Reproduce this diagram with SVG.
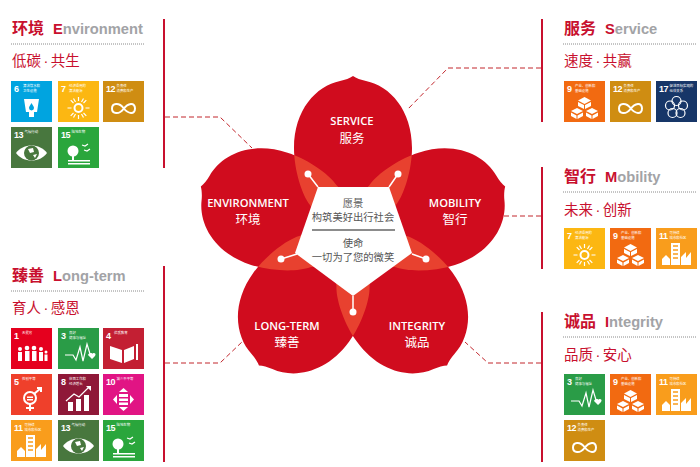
<svg xmlns="http://www.w3.org/2000/svg" xmlns:xlink="http://www.w3.org/1999/xlink" width="700" height="467" viewBox="0 0 700 467">
<style>
text{font-family:"Noto Sans CJK SC","Liberation Sans",sans-serif}
.h{font-size:16px;font-weight:700;fill:#c8102e}
.hl{font-family:"Liberation Sans",sans-serif;font-size:14.7px;font-weight:700;fill:#a2a3a6}
.hr{font-family:"Liberation Sans",sans-serif;font-size:14.7px;font-weight:700;fill:#c8102e}
.s{font-size:14.5px;fill:#c8102e}
.sd{font-family:"Liberation Sans",sans-serif}
.dot{stroke:#8a8a8a;stroke-width:1;stroke-dasharray:1 1;fill:none}
.bar{stroke:#c8102e;stroke-width:2;fill:none}
.dash{stroke:#c2272d;stroke-width:1;stroke-dasharray:5 3;fill:none}
.pl{font-family:"Open Sans","Liberation Sans",sans-serif;font-size:11.2px;font-weight:600;fill:#fff;text-anchor:middle}
.pc{font-size:12.5px;fill:#fff;text-anchor:middle}
.c{font-size:10.3px;fill:#555;text-anchor:middle}
.n{font-family:"Liberation Sans",sans-serif;font-size:9px;font-weight:700;letter-spacing:-.6px;fill:#fff}
.t{font-size:3.4px;fill:#fff}
.w{fill:#fff}
.o{fill:none;stroke:#fff;stroke-width:2}
.o1{fill:none;stroke:#fff;stroke-width:1.2}
</style>
<defs>
<path id="petal" d="M353,76C350,78 345,80 340,81C316,86 294,110 294,148C294,170 302,195 310,205C320,225 340,255 353,270C366,255 386,225 396,205C404,195 412,170 412,148C412,110 390,86 366,81C361,80 356,78 353,76Z"/>
<clipPath id="cs"><use href="#petal"/></clipPath>
<clipPath id="ci"><use href="#petal" transform="rotate(144 353 236)"/></clipPath>
<clipPath id="cl"><use href="#petal" transform="rotate(216 353 236)"/></clipPath>
<g id="i12"><path class="o" d="M20.500,27C16,21 9,22 9,27.500C9,33 16,34 20.500,28C25,22 32,21 32,27.500C32,34 25,33 20.500,27Z"/></g>
<g id="t1"><rect width="41" height="41" fill="#e5001e"/><text class="n" x="3" y="11">1</text><text class="t" x="11" y="6">无贫穷</text><g class="w"><circle cx="9" cy="21" r="2"/><rect x="7" y="24" width="4" height="9"/><circle cx="16" cy="20" r="2.300"/><rect x="14" y="23" width="4.500" height="10"/><circle cx="23" cy="20" r="2.300"/><rect x="21" y="23" width="4.500" height="10"/><circle cx="30" cy="21" r="2"/><rect x="28" y="24" width="4" height="9"/><circle cx="35" cy="24" r="1.500"/><rect x="33.500" y="26.500" width="3" height="6.500"/></g></g>
<g id="t3"><rect width="41" height="41" fill="#2a9c47"/><text class="n" x="3" y="11">3</text><text class="t" x="11" y="6">良好</text><text class="t" x="11" y="10.500">健康与福祉</text><path class="o1" d="M7,27H15L18,32L22,19L25,33L29,16L32,26"/><path class="w" d="M30,27C31,24 35,25 34,26C35,24 39,25 37,28L34,31Z"/></g>
<g id="t4"><rect width="41" height="41" fill="#c31f33"/><text class="n" x="3" y="11">4</text><text class="t" x="11" y="6">优质教育</text><path class="w" d="M7,18L19,22V35L7,31ZM21,22L31,18V31L21,35Z"/><rect class="w" x="33" y="16" width="2" height="16"/></g>
<g id="t5"><rect width="41" height="41" fill="#ef402b"/><text class="n" x="3" y="11">5</text><text class="t" x="11" y="6">性别平等</text><circle class="o" cx="19" cy="24" r="6"/><path class="o" d="M19,30V37M15,34H23M23,20L30,14M26,14H30V18"/><path class="w" d="M16,22.500H22V24H16ZM16,25H22V26.500H16Z"/></g>
<g id="t6"><rect width="41" height="41" fill="#00a4e0"/><text class="n" x="3" y="11">6</text><text class="t" x="12" y="6">清洁饮水和</text><text class="t" x="12" y="10.500">卫生设施</text><path class="w" d="M13,18H28L26,31H23V36H18V31H15Z"/><path d="M20.500,22C22,24.500 23,25.500 23,27A2.500,2.500 0 0 1 18,27C18,25.500 19,24.500 20.500,22Z" fill="#00a4e0"/></g>
<g id="t7"><rect width="41" height="41" fill="#fcb712"/><text class="n" x="3" y="11">7</text><text class="t" x="11" y="6">经济适用的</text><text class="t" x="11" y="10.500">清洁能源</text><circle class="o" cx="20.500" cy="27" r="4"/><path class="o1" d="M20.500,16V20M20.500,34V38M9.500,27H13.500M27.500,27H31.500M12.700,19.200L15.500,22M25.500,32L28.300,34.800M12.700,34.800L15.500,32M25.500,22L28.300,19.200M15.500,17.500L17.500,21M23.500,33L25.500,36.500M15.500,36.500L17.500,33M23.500,21L25.500,17.500"/></g>
<g id="t8"><rect width="41" height="41" fill="#8f1838"/><text class="n" x="3" y="11">8</text><text class="t" x="11" y="6">体面工作和</text><text class="t" x="11" y="10.500">经济增长</text><path class="w" d="M10,28H15V37H10ZM18,25H23V37H18ZM26,21H31V37H26Z"/><path class="o1" d="M8,27L16,20L21,23L31,13"/><path class="w" d="M28,12H33V17Z"/></g>
<g id="t9"><rect width="41" height="41" fill="#f26a11"/><text class="n" x="3" y="11">9</text><text class="t" x="11" y="6">产业、创新和</text><text class="t" x="11" y="10.500">基础设施</text><g class="w"><path d="M20.500,16L27,19.500L20.500,23L14,19.500Z"/><path d="M14,21L20,24V28L14,25ZM27,21L21,24V28L27,25Z"/><path d="M13,27L19,30L13,33L7,30Z"/><path d="M28,27L34,30L28,33L22,30Z"/><path d="M7,31.500L12.500,34.500V38L7,35ZM19,31.500L13.500,34.500V38L19,35ZM22,31.500L27.500,34.500V38L22,35ZM34,31.500L28.500,34.500V38L34,35Z"/></g></g>
<g id="t10"><rect width="41" height="41" fill="#e11484"/><text class="n" x="3" y="11">10</text><text class="t" x="13.500" y="6">减少不平等</text><path class="w" d="M20.500,14L25,18H16ZM20.500,37L25,33H16ZM10,25.500L14,21V30ZM31,25.500L27,21V30ZM16,20H25V23H16ZM16,24.500H25V27H16ZM16,28.500H25V31H16Z"/></g>
<g id="t11"><rect width="41" height="41" fill="#f99d1c"/><text class="n" x="3" y="11">11</text><text class="t" x="13.500" y="6">可持续</text><text class="t" x="13.500" y="10.500">城市和社区</text><g class="w"><rect x="15" y="15" width="9" height="22"/><path d="M6,37V31L10,27L14,31V37ZM25,37V29L30,24V30L35,24V37Z"/></g><path d="M17,18H22M17,22H22M17,26H22M17,30H22" stroke="#f99d1c" stroke-width="1.500"/></g>
<g id="t12"><rect width="41" height="41" fill="#cf8d12"/><text class="n" x="3" y="11">12</text><text class="t" x="13.500" y="6">负责任</text><text class="t" x="13.500" y="10.500">消费和生产</text><use href="#i12"/></g>
<g id="t13"><rect width="41" height="41" fill="#48773e"/><text class="n" x="3" y="11">13</text><text class="t" x="13.500" y="6">气候行动</text><path class="w" d="M5,26C12,16 29,16 36,26C29,36 12,36 5,26Z"/><circle cx="20.500" cy="26" r="7.500" fill="#48773e"/><path class="w" d="M17,22L22,21L23,25L19,26ZM22,28L26,27L24,31Z"/></g>
<g id="t15"><rect width="41" height="41" fill="#2aa63c"/><text class="n" x="3" y="11">15</text><text class="t" x="13.500" y="6">陆地生物</text><circle class="w" cx="15" cy="24" r="5.500"/><rect class="w" x="14" y="27" width="2" height="6"/><path class="o1" d="M24,18L27,19L30,17M26,23L29,24L32,22"/><rect class="w" x="10" y="33" width="22" height="1.500"/><rect class="w" x="10" y="36" width="22" height="1.500"/></g>
<g id="t17"><rect width="41" height="41" fill="#173668"/><text class="n" x="3" y="11">17</text><text class="t" x="13.500" y="6">促进目标实现的</text><text class="t" x="13.500" y="10.500">伙伴关系</text><g class="o1"><circle cx="20.500" cy="20" r="4.500"/><circle cx="27" cy="24.500" r="4.500"/><circle cx="24.500" cy="32" r="4.500"/><circle cx="16.500" cy="32" r="4.500"/><circle cx="14" cy="24.500" r="4.500"/></g></g>
</defs>
<rect width="700" height="467" fill="#fff"/>
<g id="connectors">
<path class="dash" d="M165,117H220L252,148"/>
<path class="dash" d="M165,363H220L243,341"/>
<path class="dash" d="M541,68H448L407,110"/>
<path class="dash" d="M541,216H503"/>
<path class="dash" d="M541,363H488L465,342"/>
</g>
<g id="flower">
<g fill="#d00c1e">
<use href="#petal"/>
<use href="#petal" transform="rotate(72 353 236)"/>
<use href="#petal" transform="rotate(144 353 236)"/>
<use href="#petal" transform="rotate(216 353 236)"/>
<use href="#petal" transform="rotate(288 353 236)"/>
</g>
<g fill="#e8412f">
<g clip-path="url(#cs)"><use href="#petal" transform="rotate(72 353 236)"/><use href="#petal" transform="rotate(288 353 236)"/></g>
<g clip-path="url(#ci)"><use href="#petal" transform="rotate(72 353 236)"/><use href="#petal" transform="rotate(216 353 236)"/></g>
<g clip-path="url(#cl)"><use href="#petal" transform="rotate(288 353 236)"/></g>
</g>
<g id="core">
<path d="M318,187H389L412,253L353,296L295,253Z" fill="#fff"/>
<path d="M308,174L318,187M398,174L389,187M281,259L297,254M426,259L412,254M353,312V296" stroke="#fff" stroke-width="1.500" fill="none"/>
<g fill="#fff"><circle cx="308" cy="174" r="3.500"/><circle cx="398" cy="174" r="3.500"/><circle cx="281" cy="259" r="3.500"/><circle cx="426" cy="259" r="3.500"/><circle cx="353" cy="312" r="3.500"/></g>
<text class="c" x="353" y="207">愿景</text>
<text class="c" x="353" y="221">构筑美好出行社会</text>
<path d="M312,230H395" stroke="#666" stroke-width="1.500"/>
<text class="c" x="353" y="247">使命</text>
<text class="c" x="353" y="261">一切为了您的微笑</text>
</g>
</g>
<g id="petal-service"><text class="pl" x="352" y="125">SERVICE</text><text class="pc" x="352" y="143">服务</text></g>
<g id="petal-environment"><text class="pl" x="248" y="207">ENVIRONMENT</text><text class="pc" x="248" y="224">环境</text></g>
<g id="petal-mobility"><text class="pl" x="455" y="207">MOBILITY</text><text class="pc" x="455" y="224">智行</text></g>
<g id="petal-longterm"><text class="pl" x="287" y="330">LONG-TERM</text><text class="pc" x="287" y="347">臻善</text></g>
<g id="petal-integrity"><text class="pl" x="417" y="330">INTEGRITY</text><text class="pc" x="417" y="347">诚品</text></g>

<g id="panel-environment">
<path class="bar" d="M164,19V168"/>
<text class="h" x="12" y="34">环境</text><text x="53" y="34"><tspan class="hr">E</tspan><tspan class="hl">nvironment</tspan></text>
<path class="dot" d="M11,44H145"/>
<text class="s" x="12" y="66">低碳<tspan class="sd" dx="2.500">·</tspan><tspan dx="2.500">共生</tspan></text>
<use href="#t6" x="11" y="81"/><use href="#t7" x="58" y="81"/><use href="#t12" x="103" y="81"/>
<use href="#t13" x="11" y="127"/><use href="#t15" x="58" y="127"/>
</g>
<g id="panel-longterm">
<path class="bar" d="M164,266V462"/>
<text class="h" x="12" y="281">臻善</text><text x="53" y="281"><tspan class="hr">L</tspan><tspan class="hl">ong-term</tspan></text>
<path class="dot" d="M11,291H145"/>
<text class="s" x="12" y="313">育人<tspan class="sd" dx="2.500">·</tspan><tspan dx="2.500">感恩</tspan></text>
<use href="#t1" x="11" y="328"/><use href="#t3" x="58" y="328"/><use href="#t4" x="103" y="328"/>
<use href="#t5" x="11" y="374"/><use href="#t8" x="58" y="374"/><use href="#t10" x="103" y="374"/>
<use href="#t11" x="11" y="420"/><use href="#t13" x="58" y="420"/><use href="#t15" x="103" y="420"/>
</g>
<g id="panel-service">
<path class="bar" d="M542,19V122"/>
<text class="h" x="564" y="34">服务</text><text x="605" y="34"><tspan class="hr">S</tspan><tspan class="hl">ervice</tspan></text>
<path class="dot" d="M563,44H697"/>
<text class="s" x="564" y="66">速度<tspan class="sd" dx="2.500">·</tspan><tspan dx="2.500">共赢</tspan></text>
<use href="#t9" x="564" y="81"/><use href="#t12" x="610" y="81"/><use href="#t17" x="656" y="81"/>
</g>
<g id="panel-mobility">
<path class="bar" d="M542,167V269"/>
<text class="h" x="564" y="182">智行</text><text x="605" y="182"><tspan class="hr">M</tspan><tspan class="hl">obility</tspan></text>
<path class="dot" d="M563,192H697"/>
<text class="s" x="564" y="215">未来<tspan class="sd" dx="2.500">·</tspan><tspan dx="2.500">创新</tspan></text>
<use href="#t7" x="564" y="228"/><use href="#t9" x="610" y="228"/><use href="#t11" x="656" y="228"/>
</g>
<g id="panel-integrity">
<path class="bar" d="M542,312V462"/>
<text class="h" x="564" y="327">诚品</text><text x="605" y="327"><tspan class="hr">I</tspan><tspan class="hl">ntegrity</tspan></text>
<path class="dot" d="M563,337H697"/>
<text class="s" x="564" y="360">品质<tspan class="sd" dx="2.500">·</tspan><tspan dx="2.500">安心</tspan></text>
<use href="#t3" x="564" y="374"/><use href="#t9" x="610" y="374"/><use href="#t11" x="656" y="374"/>
<use href="#t12" x="564" y="420"/>
</g>
</svg>
